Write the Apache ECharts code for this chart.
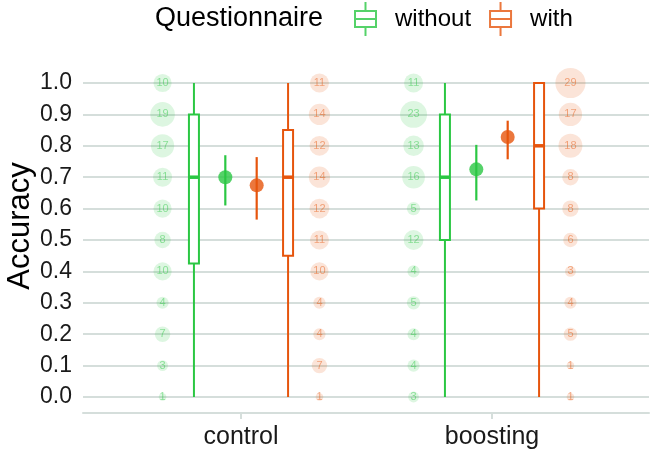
<!DOCTYPE html>
<html><head><meta charset="utf-8">
<script src="https://cdn.jsdelivr.net/npm/echarts@6/dist/echarts.min.js"></script>
<style>html,body{margin:0;padding:0;background:#fff}#c{width:651px;height:452px}</style>
</head><body><div id="c"></div>
<script>
// ---- data ----
const categories = ['control', 'boosting'];
const groups = ['without', 'with'];
const accuracyLevels = [1.0, 0.9, 0.8, 0.7, 0.6, 0.5, 0.4, 0.3, 0.2, 0.1, 0.0];
const countsControlWithout = [10, 19, 17, 11, 10, 8, 10, 4, 7, 3, 1];
const countsControlWith = [11, 14, 12, 14, 12, 11, 10, 4, 4, 7, 1];
const countsBoostingWithout = [11, 23, 13, 16, 5, 12, 4, 5, 4, 4, 3];
const countsBoostingWith = [29, 17, 18, 8, 8, 6, 3, 4, 5, 1, 1];
// box stats per category: [min, q1, median, q3, max]
const boxWithout = [[0.0, 0.425, 0.7, 0.9, 1.0], [0.0, 0.5, 0.7, 0.9, 1.0]];
const boxWith = [[0.0, 0.45, 0.7, 0.85, 1.0], [0.0, 0.6, 0.8, 1.0, 1.0]];
const meanWithout = [0.70, 0.725];
const ciLowWithout = [0.61, 0.626];
const ciHighWithout = [0.77, 0.803];
const meanWith = [0.674, 0.828];
const ciLowWith = [0.565, 0.757];
const ciHighWith = [0.764, 0.88];
const yTickValues = [0, 0.1, 0.2, 0.3, 0.4, 0.5, 0.6, 0.7, 0.8, 0.9, 1.0];

// ---- styling / layout ----
const GREEN = '#2bc743';
const ORANGE = '#e6550d';
const GRIDC = '#d5dedb';
const TXT = '#1a1a1a';
const FONT = 'Liberation Sans, Arial, sans-serif';
const OFF_BUBBLE = 0.3125, OFF_BOX = 0.1875, OFF_MEAN = 0.0625;

function bubbleData(countsByCat, offset) {
  const out = [];
  countsByCat.forEach((counts, ci) => {
    counts.forEach((n, i) => out.push([ci + offset, accuracyLevels[i], n]));
  });
  return out;
}
function bubbleSize(v) { return 2 * Math.sqrt(14 + 7.6 * (v[2] - 1)); }

function boxRender(offset, color) {
  return function (params, api) {
    const x = api.value(0) + offset;
    const pMin = api.coord([x, api.value(1)]);
    const pQ1 = api.coord([x, api.value(2)]);
    const pMed = api.coord([x, api.value(3)]);
    const pQ3 = api.coord([x, api.value(4)]);
    const pMax = api.coord([x, api.value(5)]);
    const hw = 5;
    return { type: 'group', children: [
      { type: 'line', shape: { x1: pMin[0], y1: pMin[1], x2: pQ1[0], y2: pQ1[1] }, style: { stroke: color, lineWidth: 2 } },
      { type: 'line', shape: { x1: pQ3[0], y1: pQ3[1], x2: pMax[0], y2: pMax[1] }, style: { stroke: color, lineWidth: 2 } },
      { type: 'rect', shape: { x: pQ3[0] - hw, y: pQ3[1], width: 2 * hw, height: pQ1[1] - pQ3[1] }, style: { fill: '#fff', stroke: color, lineWidth: 2 } },
      { type: 'line', shape: { x1: pMed[0] - hw, y1: pMed[1], x2: pMed[0] + hw, y2: pMed[1] }, style: { stroke: color, lineWidth: 3.5 } }
    ] };
  };
}
function errRender(offset, color) {
  return function (params, api) {
    const x = api.value(0) + offset;
    const a = api.coord([x, api.value(1)]);
    const b = api.coord([x, api.value(2)]);
    return { type: 'line', shape: { x1: a[0], y1: a[1], x2: b[0], y2: b[1] }, style: { stroke: color, lineWidth: 2.2 } };
  };
}

const iconPath = 'path://M11.5 0H13.5V8H11.5Z M1 8H24V10H1Z M1 24H24V26H1Z M1 8H3V26H1Z M22 8H24V26H22Z M1 16H24V18H1Z M11.5 26H13.5V34H11.5Z M0 0H0.01V0.01H0Z M24.99 33.99H25V34H24.99Z';

const chart = echarts.init(document.getElementById('c'), null, { renderer: 'canvas' });
chart.setOption({
  animation: false,
  backgroundColor: '#fff',
  textStyle: { fontFamily: FONT },
  title: { text: 'Questionnaire', left: 155, top: 5, padding: 0,
    textStyle: { fontSize: 27, fontWeight: 'normal', color: '#000', fontFamily: FONT } },
  legend: {
    left: 353, top: 2, padding: 0, itemWidth: 25, itemHeight: 34, itemGap: 17,
    textStyle: { fontSize: 24, color: '#000', padding: [0, 0, 0, 12], fontFamily: FONT },
    data: [
      { name: 'without', icon: iconPath, itemStyle: { color: GREEN, borderWidth: 0 } },
      { name: 'with', icon: iconPath, itemStyle: { color: ORANGE, borderWidth: 0 } }
    ]
  },
  grid: { left: 83, right: 2, top: 83, bottom: 55, outerBoundsMode: 'none', containLabel: false },
  xAxis: {
    type: 'value', min: -0.6295, max: 1.6255, offset: 16,
    splitLine: { show: false },
    axisLine: { show: true, onZero: false, lineStyle: { color: GRIDC, width: 2 } },
    axisTick: { show: true, customValues: [0, 1], length: 6, lineStyle: { color: GRIDC, width: 2 } },
    axisLabel: { customValues: [0, 1], formatter: v => categories[Math.round(v)], fontSize: 25, color: TXT, margin: 12 }
  },
  yAxis: {
    type: 'value', min: 0, max: 1, interval: 0.1,
    name: 'Accuracy', nameLocation: 'middle', nameGap: 47, nameMoveOverlap: false,
    nameTextStyle: { fontSize: 31, color: '#000', padding: [0, 0, 0, 28] },
    axisLine: { show: false },
    axisTick: { show: true, length: 6, lineStyle: { color: GRIDC, width: 2 } },
    splitLine: { show: true, lineStyle: { color: GRIDC, width: 2 } },
    axisLabel: { formatter: v => v.toFixed(1), fontSize: 23, color: TXT, margin: 11 }
  },
  series: [
    { name: 'without', type: 'scatter', clip: false, data: bubbleData([countsControlWithout, countsBoostingWithout], -OFF_BUBBLE),
      symbolSize: bubbleSize, itemStyle: { color: 'rgba(43,199,67,0.2)' },
      label: { show: true, position: 'inside', formatter: p => p.value[2], fontSize: 11, color: 'rgba(43,199,67,0.6)' } },
    { name: 'with', type: 'scatter', clip: false, data: bubbleData([countsControlWith, countsBoostingWith], OFF_BUBBLE),
      symbolSize: bubbleSize, itemStyle: { color: 'rgba(230,85,13,0.2)' },
      label: { show: true, position: 'inside', formatter: p => p.value[2], fontSize: 11, color: 'rgba(230,85,13,0.6)' } },
    { name: 'without', type: 'custom', renderItem: boxRender(-OFF_BOX, GREEN),
      data: boxWithout.map((b, i) => [i].concat(b)), itemStyle: { color: GREEN } },
    { name: 'with', type: 'custom', renderItem: boxRender(OFF_BOX, ORANGE),
      data: boxWith.map((b, i) => [i].concat(b)), itemStyle: { color: ORANGE } },
    { name: 'without', type: 'custom', renderItem: errRender(-OFF_MEAN, GREEN),
      data: ciLowWithout.map((l, i) => [i, l, ciHighWithout[i]]), itemStyle: { color: GREEN } },
    { name: 'with', type: 'custom', renderItem: errRender(OFF_MEAN, ORANGE),
      data: ciLowWith.map((l, i) => [i, l, ciHighWith[i]]), itemStyle: { color: ORANGE } },
    { name: 'without', type: 'scatter', clip: false, symbolSize: 14, itemStyle: { color: GREEN },
      data: meanWithout.map((m, i) => [i - OFF_MEAN, m]) },
    { name: 'with', type: 'scatter', clip: false, symbolSize: 14, itemStyle: { color: ORANGE },
      data: meanWith.map((m, i) => [i + OFF_MEAN, m]) }
  ]
});
</script>
</body></html>
